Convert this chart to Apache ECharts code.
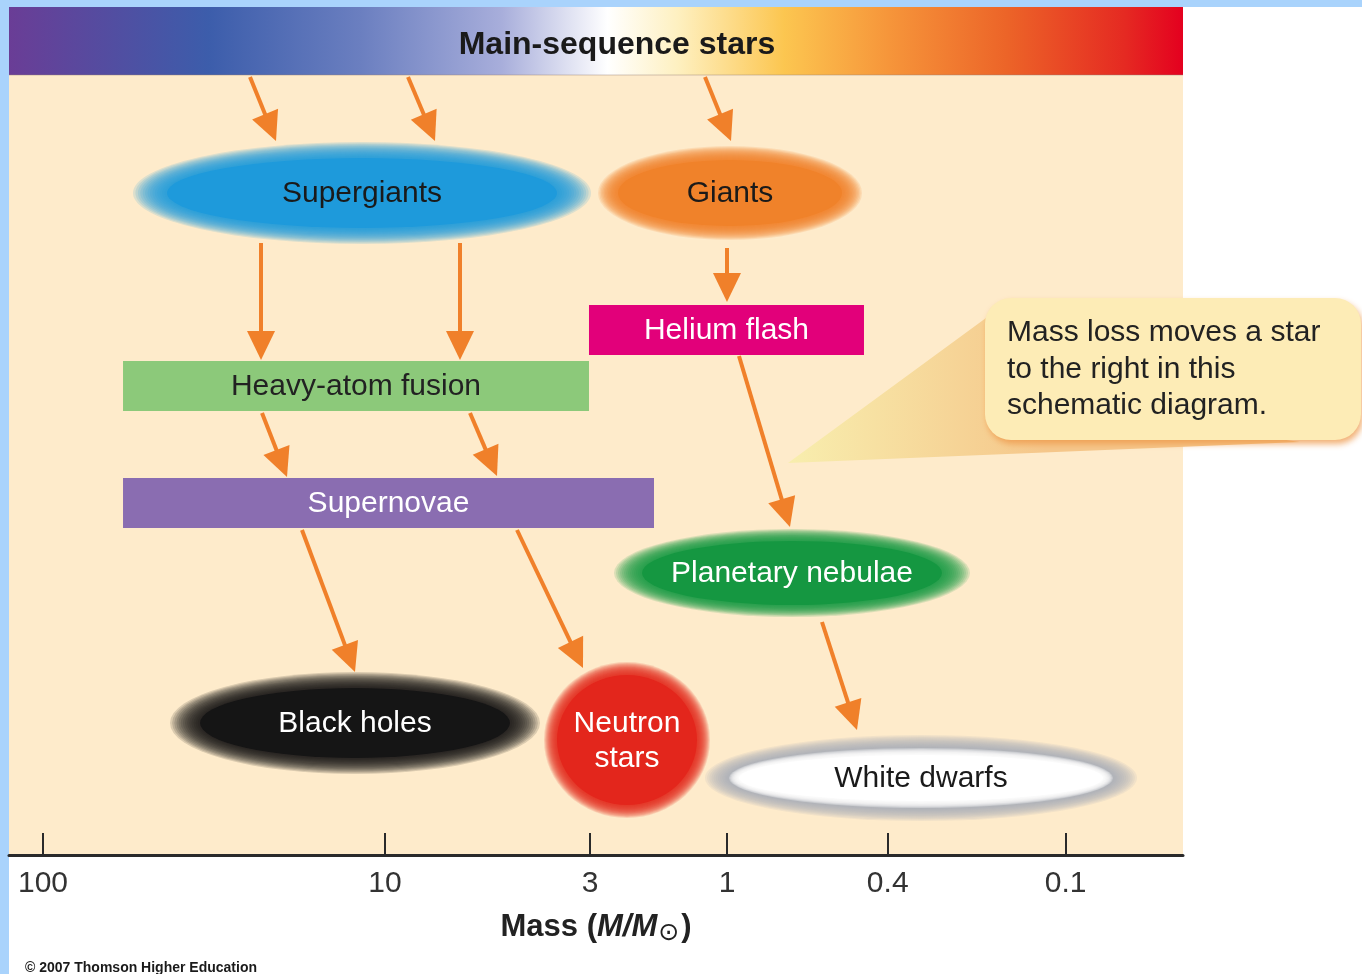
<!DOCTYPE html>
<html>
<head>
<meta charset="utf-8">
<title>Stellar evolution by mass</title>
<script src="https://cdn.jsdelivr.net/npm/echarts@6/dist/echarts.min.js"></script>
<style>
  html, body { margin: 0; padding: 0; background: #fff; }
  #chart { width: 1362px; height: 974px; }
</style>
</head>
<body>
<div id="chart"></div>
<script>
// x = schematic log10 of mass (100 -> 2, 10 -> 1, 1 -> 0 ...), axis reversed
// y = stage depth, counted down from the top of the panel
const tickPos = [2, 1, 0.4, 0, -0.47, -0.99]
const tickLabels = ['100', '10', '3', '1', '0.4', '0.1']

const bandName = 'Main-sequence stars'
const bandLogM = [2.0994, -1.3334]
const bandStage = [0, 68]
const bandLabelAt = 0.3216

const boxNames = ['Helium flash', 'Heavy-atom fusion', 'Supernovae']
const boxLogM = [[0.4035, -0.4006], [1.766, 0.4035], [1.766, 0.2134]]
const boxStage = [[298, 348], [354, 404], [471, 521]]

const ovalNames = ['Supergiants', 'Giants', 'Planetary nebulae', 'Black holes', 'Neutron\nstars', 'White dwarfs']
const ovalLogM = [[1.6374, 0.497], [0.3187, -0.3363], [0.2485, -0.6287], [1.5409, 0.6345], [0.4971, 0.0877], [-0.0234, -1.1112]]
const ovalStage = [[151, 221], [153, 219], [534, 598], [681, 751], [668, 798], [745, 797]]

const arrowFrom = [[1.3947, 70], [0.9327, 70], [0.0643, 70], [1.3625, 236], [0.7807, 236], [0, 241],
  [1.3596, 406], [0.7514, 406], [-0.0351, 349], [1.2427, 523], [0.614, 523], [-0.2778, 615]]
const arrowTo = [[1.3187, 134], [0.8538, 134], [-0.0117, 134], [1.3625, 353], [0.7807, 353], [0, 295],
  [1.2865, 470], [0.6725, 469], [-0.1842, 520], [1.0877, 665], [0.421, 661], [-0.3801, 723]]

const noteLines = ['Mass loss moves a star', 'to the right in this', 'schematic diagram.']
const noteBox = [[-0.7544, -1.8538], [291, 433]]
const noteWedge = [[-0.7573, 311], [-0.1784, 456], [-1.6755, 435], [-1.2368, 413]]

const FONT = '"Liberation Sans", Arial, Helvetica, sans-serif'
const ARROW = '#F0802A'
const boxStyle = [
  { fill: '#E2007A', text: '#fff' },
  { fill: '#8CC97A', text: '#222' },
  { fill: '#8A6DB1', text: '#fff' }
]
// wx / wy: how far the soft halo reaches past the solid core
const ovalStyle = [
  { core: '#1E9ADB', wx: 34, wy: 16, text: '#1a1a1a' },
  { core: '#F0822A', wx: 20, wy: 14, text: '#1a1a1a' },
  { core: '#159741', wx: 28, wy: 12, text: '#fff' },
  { core: '#151515', wx: 30, wy: 16, text: '#fff' },
  { core: '#E3261C', wx: 13, wy: 13, text: '#fff' },
  { core: '#FFFFFF', wx: 26, wy: 14, text: '#1a1a1a', ring: '#A4A9B7' }
]

function corners(api, xs, ys) {
  const a = api.coord([xs[0], ys[0]])
  const b = api.coord([xs[1], ys[1]])
  return { x: Math.min(a[0], b[0]), y: Math.min(a[1], b[1]), w: Math.abs(b[0] - a[0]), h: Math.abs(b[1] - a[1]) }
}

function renderBand(params, api) {
  const r = corners(api, [api.value(0), api.value(1)], [api.value(2), api.value(3)])
  const t = api.coord([bandLabelAt, (bandStage[0] + bandStage[1]) / 2])
  return {
    type: 'group',
    children: [{
      type: 'rect',
      shape: { x: r.x, y: r.y, width: r.w, height: r.h },
      style: {
        fill: {
          type: 'linear', x: 0, y: 0, x2: 1, y2: 0,
          colorStops: [
            { offset: 0, color: '#6A3D96' },
            { offset: 0.17, color: '#3C5DAB' },
            { offset: 0.3, color: '#6B7FC0' },
            { offset: 0.42, color: '#A8AEDB' },
            { offset: 0.51, color: '#FFFFFF' },
            { offset: 0.57, color: '#FEF0C0' },
            { offset: 0.66, color: '#FCC650' },
            { offset: 0.75, color: '#F6953A' },
            { offset: 0.85, color: '#EC6428' },
            { offset: 0.95, color: '#E52A22' },
            { offset: 1, color: '#E4001F' }
          ]
        }
      }
    }, {
      type: 'line',
      shape: { x1: r.x, y1: r.y + r.h, x2: r.x + r.w, y2: r.y + r.h },
      style: { stroke: 'rgba(150,130,120,0.45)', lineWidth: 1 }
    }, {
      type: 'text',
      style: {
        text: bandName, x: t[0], y: t[1] + 4, align: 'center', verticalAlign: 'middle',
        font: 'bold 32px ' + FONT, fill: '#1a1a1a'
      }
    }]
  }
}

function renderBox(params, api) {
  const i = params.dataIndex
  const r = corners(api, [api.value(0), api.value(1)], [api.value(2), api.value(3)])
  return {
    type: 'group',
    children: [{
      type: 'rect',
      shape: { x: r.x, y: r.y, width: r.w, height: r.h },
      style: { fill: boxStyle[i].fill }
    }, {
      type: 'text',
      style: {
        text: boxNames[i], x: r.x + r.w / 2, y: r.y + r.h / 2 + 1, align: 'center', verticalAlign: 'middle',
        font: '30px ' + FONT, fill: boxStyle[i].text
      }
    }]
  }
}

function blob(cx, cy, rx, ry, fill, opacity) {
  return {
    type: 'circle', x: cx, y: cy, scaleX: rx / ry,
    shape: { cx: 0, cy: 0, r: ry },
    style: { fill: fill, opacity: opacity }
  }
}

// stacked translucent ellipses give a soft fuzzy rim
function halo(cx, cy, rx, ry, wx, wy, color, steps, opacity) {
  const out = []
  for (let k = 0; k < steps; k++) {
    const t = 1 - k / steps
    out.push(blob(cx, cy, rx + wx * t, ry + wy * t, color, opacity))
  }
  return out
}

function renderOval(params, api) {
  const i = params.dataIndex
  const r = corners(api, [api.value(0), api.value(1)], [api.value(2), api.value(3)])
  const cx = r.x + r.w / 2
  const cy = r.y + r.h / 2
  const rx = r.w / 2
  const ry = r.h / 2
  const st = ovalStyle[i]
  let parts
  if (st.ring) {
    parts = halo(cx, cy, rx + 4, ry + 3, st.wx, st.wy, st.ring, 12, 0.14)
      .concat(halo(cx, cy, rx - 4, ry - 3, 10, 7, st.core, 8, 0.3))
      .concat([blob(cx, cy, rx - 4, ry - 3, st.core, 1)])
  } else {
    parts = halo(cx, cy, rx, ry, st.wx, st.wy, st.core, 14, 0.15)
      .concat([blob(cx, cy, rx, ry, st.core, 1)])
  }
  parts.push({
    type: 'text',
    style: {
      text: ovalNames[i], x: cx, y: cy + 1, align: 'center', verticalAlign: 'middle',
      font: '30px ' + FONT, lineHeight: 35, fill: st.text
    }
  })
  return { type: 'group', children: parts }
}

function renderArrow(params, api) {
  const s = api.coord([api.value(0), api.value(1)])
  const e = api.coord([api.value(2), api.value(3)])
  const dx = e[0] - s[0]
  const dy = e[1] - s[1]
  const len = Math.hypot(dx, dy)
  const ux = dx / len
  const uy = dy / len
  const head = 29
  const half = 14
  const bx = e[0] - ux * head
  const by = e[1] - uy * head
  return {
    type: 'group',
    children: [{
      type: 'line',
      shape: { x1: s[0], y1: s[1], x2: bx + ux * 3, y2: by + uy * 3 },
      style: { stroke: ARROW, lineWidth: 4 }
    }, {
      type: 'polygon',
      shape: { points: [[e[0], e[1]], [bx - uy * half, by + ux * half], [bx + uy * half, by - ux * half]] },
      style: { fill: ARROW }
    }]
  }
}

function renderNote(params, api) {
  const r = corners(api, noteBox[0], noteBox[1])
  const pts = noteWedge.map(p => api.coord(p))
  const tx = r.x + 22
  return {
    type: 'group',
    children: [{
      type: 'polygon',
      shape: { points: pts },
      style: {
        fill: {
          type: 'linear', x: pts[1][0], y: 0, x2: pts[0][0] + 60, y2: 0, global: true,
          colorStops: [{ offset: 0, color: '#F8EEAE' }, { offset: 1, color: '#F5C68A' }]
        }
      }
    }, {
      type: 'rect',
      shape: { x: r.x, y: r.y, width: r.w, height: r.h, r: 26 },
      style: { fill: '#FDECB6', shadowBlur: 6, shadowOffsetY: 4, shadowOffsetX: 2, shadowColor: 'rgba(238,150,70,0.75)' }
    }].concat(noteLines.map((line, k) => ({
      type: 'text',
      style: {
        text: line, x: tx, y: r.y + 35 + k * 36.5, align: 'left', verticalAlign: 'middle',
        font: '30px ' + FONT, fill: '#222'
      }
    })))
  }
}

const chart = echarts.init(document.getElementById('chart'))
chart.setOption({
  animation: false,
  backgroundColor: '#fff',
  grid: {
    left: 9, right: 179, top: 7, bottom: 119,
    show: true, backgroundColor: '#FEEBCB', borderWidth: 0
  },
  graphic: [
    { type: 'rect', left: 0, top: 0, shape: { width: 9, height: 974 }, style: { fill: '#A9D3FC' } },
    { type: 'rect', left: 0, top: 0, shape: { width: 1362, height: 7 }, style: { fill: '#A9D3FC' } },
    {
      type: 'text', left: 25, top: 961,
      style: { text: '\u00A9 2007 Thomson Higher Education', font: 'bold 14px ' + FONT, fill: '#1a1a1a' }
    }
  ],
  xAxis: {
    type: 'value',
    position: 'bottom',
    min: bandLogM[1],
    max: bandLogM[0],
    inverse: true,
    splitLine: { show: false },
    axisLine: { onZero: false, lineStyle: { color: '#2a2a2a', width: 3 } },
    axisTick: { inside: true, length: 22, customValues: tickPos, lineStyle: { color: '#2a2a2a', width: 2 } },
    axisLabel: {
      customValues: tickPos,
      formatter: v => tickLabels[tickPos.indexOf(v)],
      fontSize: 30, fontFamily: FONT, color: '#333', margin: 14
    },
    name: '{b|Mass (}{i|M/M}{s|\u2299}{b|)}',
    nameLocation: 'middle',
    nameGap: 54,
    nameTextStyle: {
      rich: {
        b: { fontSize: 31, fontWeight: 'bold', fontFamily: FONT, color: '#222' },
        i: { fontSize: 31, fontWeight: 'bold', fontStyle: 'italic', fontFamily: FONT, color: '#222' },
        s: { fontSize: 25, fontFamily: '"DejaVu Sans", sans-serif', color: '#222', verticalAlign: 'bottom', padding: [12, 2, 0, 1] }
      }
    }
  },
  yAxis: { type: 'value', min: 0, max: 848, inverse: true, show: false },
  series: [
    {
      type: 'custom', renderItem: renderBand, silent: true,
      data: [[bandLogM[0], bandLogM[1], bandStage[0], bandStage[1]]]
    },
    {
      type: 'custom', renderItem: renderNote, silent: true,
      data: [[noteBox[0][0], noteBox[1][0]]]
    },
    {
      type: 'custom', renderItem: renderBox, silent: true,
      data: boxNames.map((n, i) => [boxLogM[i][0], boxLogM[i][1], boxStage[i][0], boxStage[i][1]])
    },
    {
      type: 'custom', renderItem: renderOval, silent: true,
      data: ovalNames.map((n, i) => [ovalLogM[i][0], ovalLogM[i][1], ovalStage[i][0], ovalStage[i][1]])
    },
    {
      type: 'custom', renderItem: renderArrow, silent: true,
      data: arrowFrom.map((p, i) => [p[0], p[1], arrowTo[i][0], arrowTo[i][1]])
    }
  ]
})
</script>
</body>
</html>
